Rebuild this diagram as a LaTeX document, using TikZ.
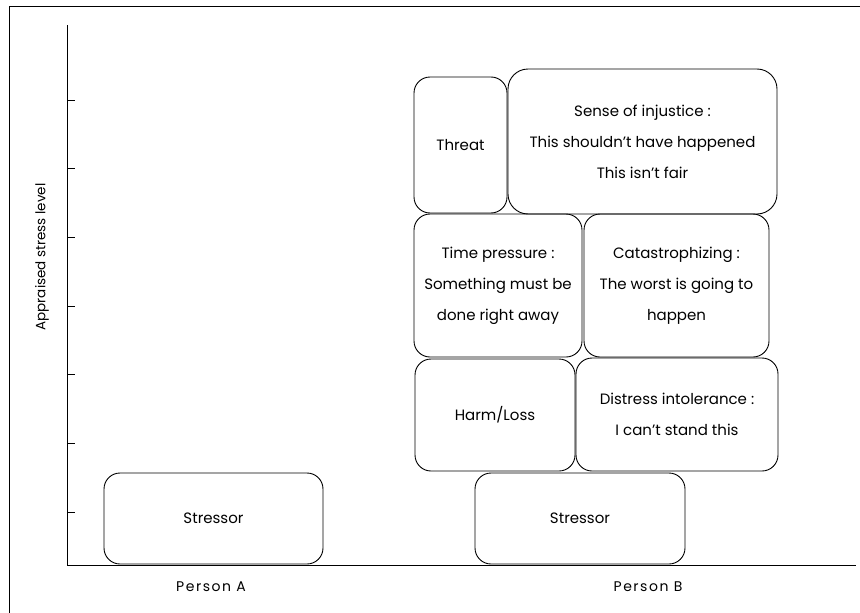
\documentclass[tikz,border=0pt]{standalone}
\usepackage{fontspec}
\setmainfont{Poppins}
\usetikzlibrary{positioning}

\tikzset{
  stage/.style={draw, line width=0.9pt, rounded corners=16pt, inner sep=0pt,
    align=center, font=\fontsize{15}{31}\selectfont},
  axislabel/.style={font=\fontsize{13.5}{15}\selectfont},
  personlabel/.style={font=\fontsize{14}{16}\selectfont\addfontfeature{LetterSpace=11}},
  axisline/.style={line width=0.9pt},
}

\begin{document}
\begin{tikzpicture}[x=1pt, y=-1pt]
  \useasboundingbox (0,0) rectangle (860,613);
  % frame
  \draw[axisline] (9,613) -- (9,6) -- (860,6);
  % axes
  \coordinate (origin) at (67,565);
  \coordinate (ytop) at (67,25);
  \coordinate (xend) at (856,565);
  \draw[axisline] (ytop) -- (origin) -- (xend);
  \foreach \k in {0,...,6}
    \draw[axisline] (67,{100+68.7*\k}) -- ++(8,0);
  \node[axislabel, rotate=90] (ylabel) at (42,257) {Appraised stress level};

  % person A
  \node[stage, minimum width=219pt, minimum height=91pt] (stressA) at (213.5,518.5) {Stressor};
  \node[personlabel] (personA) at (211,587) {Person A};

  % person B
  \node[stage, minimum width=210pt, minimum height=91pt] (stressB) at (580,518.5) {Stressor};
  \node[stage, minimum width=160pt, minimum height=112pt] (harm) at (495,415) {Harm/Loss};
  \node[stage, minimum width=202pt, minimum height=113pt] (distress) at (677,414.5)
    {Distress intolerance :\\I can't stand this};
  \node[stage, minimum width=168pt, minimum height=143pt] (timepress) at (498,285.5)
    {Time pressure :\\Something must be\\done right away};
  \node[stage, minimum width=185pt, minimum height=143pt] (catastro) at (676.5,285.5)
    {Catastrophizing :\\The worst is going to\\happen};
  \node[stage, minimum width=93pt, minimum height=136pt] (threat) at (460.5,145) {Threat};
  \node[stage, minimum width=269pt, minimum height=145pt, rounded corners=20pt] (injustice) at (642.5,141.5)
    {Sense of injustice :\\This shouldn't have happened\\This isn't fair};
  \node[personlabel] (personB) at (648,587) {Person B};
\end{tikzpicture}
\end{document}
